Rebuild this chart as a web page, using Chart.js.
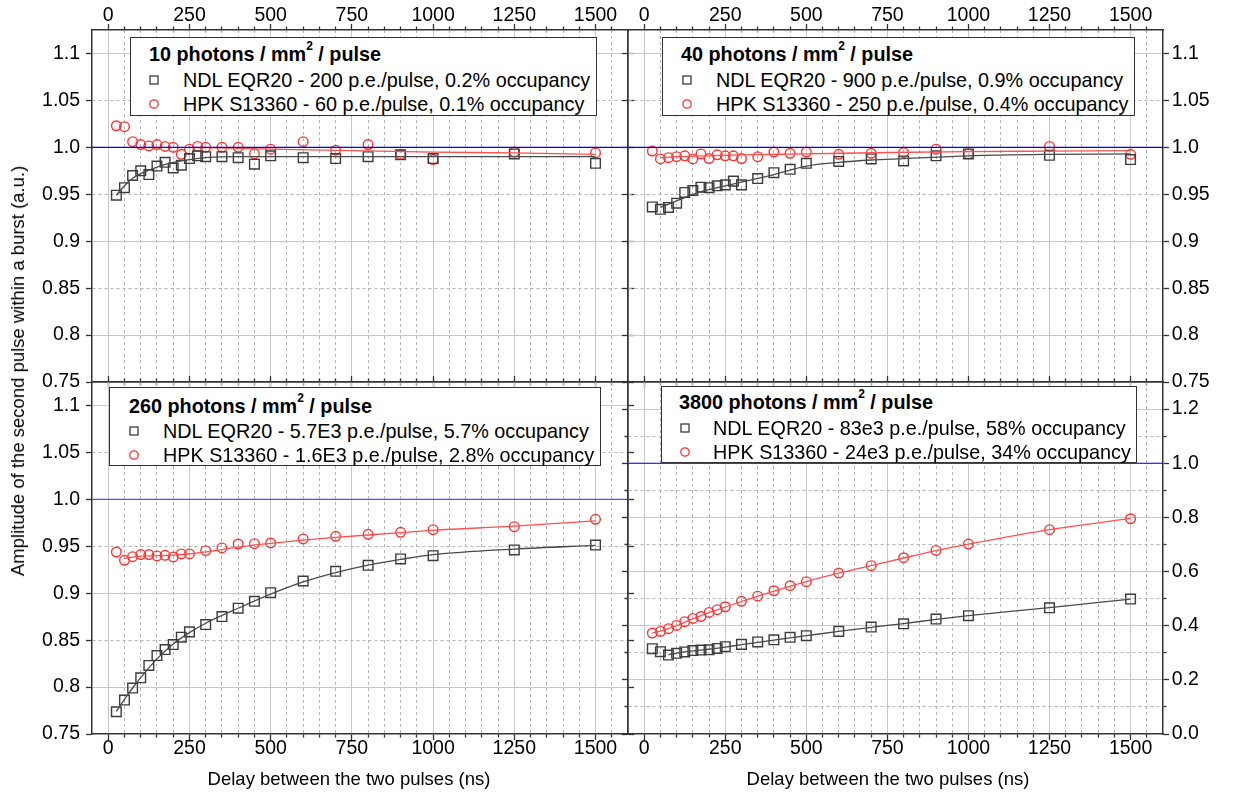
<!DOCTYPE html>
<html>
<head>
<meta charset="utf-8">
<script src="https://cdn.jsdelivr.net/npm/chart.js@4.4.1/dist/chart.umd.min.js"></script>
<style>
body { margin:0; background:#fff; width:1242px; height:795px; overflow:hidden; position:relative;
       font-family:"Liberation Sans", Arial, sans-serif; color:#000; }
canvas { position:absolute; left:0; top:0; }
.legend { position:absolute; background:#fff; border:1px solid #333; box-sizing:border-box; z-index:5; }
.legend div { position:absolute; white-space:nowrap; line-height:24px; height:24px; font-size:19.8px; }
.legend .ttl { font-weight:bold; }
.legend sup { font-size:12px; position:relative; top:-2px; vertical-align:top; line-height:12px; }
.legend svg { position:absolute; }
.axtitle { position:absolute; font-size:18.5px; white-space:nowrap; transform:translate(-50%,-50%); z-index:5; }
</style>
</head>
<body>
<canvas id="c0" width="1242" height="795"></canvas>
<canvas id="c1" width="1242" height="795"></canvas>
<canvas id="c2" width="1242" height="795"></canvas>
<canvas id="c3" width="1242" height="795"></canvas>
<div class="axtitle" style="left:18px;top:371px;transform:translate(-50%,-50%) rotate(-90deg);">Amplitude of the second pulse within a burst (a.u.)</div>
<div class="axtitle" style="left:349px;top:779px;">Delay between the two pulses (ns)</div>
<div class="axtitle" style="left:888px;top:779px;">Delay between the two pulses (ns)</div>
<script>
// delays (ns)
var xAll   = [25,50,75,100,125,150,175,200,225,250,275,300,350,400,450,500,600,700,800,900,1000,1250,1500];
var xNo275 = [25,50,75,100,125,150,175,200,225,250,300,350,400,450,500,600,700,800,900,1000,1250,1500];

// 10 photons / mm2 / pulse
var ndl10 = [0.949,0.957,0.970,0.975,0.971,0.980,0.984,0.978,0.981,0.988,0.991,0.990,0.990,0.989,0.982,0.991,0.989,0.988,0.990,0.992,0.988,0.993,0.983];
var hpk10 = [1.023,1.022,1.006,1.003,1.0015,1.003,1.001,1.000,0.9925,0.998,1.001,1.000,1.000,1.000,0.993,0.998,1.006,0.997,1.003,0.9925,0.987,0.995,0.994];
// 40 photons / mm2 / pulse
var ndl40 = [0.9365,0.934,0.936,0.9405,0.952,0.954,0.9575,0.957,0.959,0.960,0.964,0.960,0.9667,0.973,0.9766,0.983,0.985,0.9876,0.9855,0.991,0.993,0.9915,0.987];
var hpk40 = [0.996,0.9876,0.989,0.990,0.991,0.9876,0.993,0.988,0.992,0.991,0.991,0.988,0.990,0.995,0.9936,0.995,0.9926,0.9936,0.9943,0.998,0.993,1.001,0.9926];
// 260 photons / mm2 / pulse
var ndl260 = [0.7737,0.7861,0.7989,0.8099,0.8230,0.8336,0.8400,0.8453,0.8531,0.8588,0.8666,0.8751,0.8840,0.8914,0.9006,0.9130,0.9233,0.9297,0.9365,0.9400,0.9461,0.9513];
var hpk260 = [0.9439,0.9350,0.9389,0.9411,0.9411,0.9397,0.9404,0.9386,0.9418,0.9418,0.9453,0.9482,0.9524,0.9528,0.9535,0.9578,0.9606,0.9627,0.9648,0.9677,0.9709,0.9787];
// 3800 photons / mm2 / pulse
var ndl3800 = [0.315,0.304,0.2916,0.298,0.303,0.308,0.310,0.311,0.316,0.3224,0.331,0.340,0.348,0.357,0.363,0.379,0.395,0.407,0.4245,0.437,0.466,0.4985];
var hpk3800 = [0.3728,0.379,0.389,0.401,0.415,0.427,0.434,0.449,0.459,0.470,0.490,0.509,0.529,0.5476,0.5625,0.5944,0.6215,0.651,0.678,0.7015,0.7545,0.795];

// fit curves
var fitNdl10X = [25,50,75,100,150,200,250,300,400,500,750,1000,1250,1500];
var fitNdl10Y = [0.949,0.959,0.967,0.972,0.979,0.984,0.987,0.989,0.990,0.990,0.990,0.990,0.990,0.990];
var fitHpk10X = [250,500,750,1000,1250,1500];
var fitHpk10Y = [1.000,0.998,0.9965,0.995,0.994,0.9925];
var fitNdl40X = [50,100,150,200,250,300,400,500,600,700,800,1000,1250,1500];
var fitNdl40Y = [0.936,0.943,0.950,0.955,0.959,0.963,0.971,0.980,0.984,0.9865,0.988,0.991,0.9925,0.993];
var fitHpk40X = [50,100,200,300,500,750,1000,1250,1500];
var fitHpk40Y = [0.989,0.990,0.991,0.992,0.993,0.9945,0.9955,0.996,0.9965];
var fitNdl260X = [25,50,75,100,150,200,250,300,400,500,600,700,800,900,1000,1250,1500];
var fitNdl260Y = [0.774,0.787,0.799,0.810,0.830,0.846,0.858,0.868,0.884,0.899,0.912,0.922,0.930,0.936,0.941,0.947,0.951];
var fitHpk260X = [50,100,200,250,300,400,500,600,700,800,900,1000,1250,1500];
var fitHpk260Y = [0.937,0.9395,0.9405,0.942,0.944,0.949,0.953,0.9565,0.9595,0.962,0.9645,0.967,0.9715,0.977];
var fitNdl3800X = [75,100,150,200,250,300,400,500,600,700,800,900,1000,1250,1500];
var fitNdl3800Y = [0.293,0.299,0.307,0.313,0.321,0.330,0.347,0.363,0.379,0.394,0.408,0.423,0.437,0.467,0.498];
var fitHpk3800X = [25,50,100,150,200,250,300,400,500,600,700,800,900,1000,1250,1500];
var fitHpk3800Y = [0.373,0.380,0.400,0.425,0.448,0.469,0.489,0.528,0.563,0.594,0.622,0.650,0.677,0.701,0.755,0.796];

// reference line at 1.0
var refX = [-50,1600];
var refY = [1.0,1.0];

// ticks
var xTicks = [0,50,100,150,200,250,300,350,400,450,500,550,600,650,700,750,800,850,900,950,1000,1050,1100,1150,1200,1250,1300,1350,1400,1450,1500,1550];
var xMajor = [0,250,500,750,1000,1250,1500];
var yTicksA  = [0.75,0.8,0.85,0.9,0.95,1.0,1.05,1.1];
var yLabelsA = ['0.75','0.8','0.85','0.9','0.95','1.0','1.05','1.1'];
var yMajorA  = [0.8,0.9,1.0,1.1];
var yTicksB  = [0,0.1,0.2,0.3,0.4,0.5,0.6,0.7,0.8,0.9,1.0,1.1,1.2];
var yLabelsB = ['0.0','','0.2','','0.4','','0.6','','0.8','','1.0','','1.2'];
var yMajorB  = [0,0.2,0.4,0.6,0.8,1.0,1.2];

// legend texts
var titleNumbers = ['10','40','260','3800'];
var ndlLabels = ['NDL EQR20 - 200 p.e./pulse, 0.2% occupancy','NDL EQR20 - 900 p.e./pulse, 0.9% occupancy','NDL EQR20 - 5.7E3 p.e./pulse, 5.7% occupancy','NDL EQR20 - 83e3 p.e./pulse, 58% occupancy'];
var hpkLabels = ['HPK S13360 - 60 p.e./pulse, 0.1% occupancy','HPK S13360 - 250 p.e./pulse, 0.4% occupancy','HPK S13360 - 1.6E3 p.e./pulse, 2.8% occupancy','HPK S13360 - 24e3 p.e./pulse, 34% occupancy'];

var W = 1242, H = 795;
var GREY = '#3c3c3c', RED = '#ff3030';
var TICK_FONT = 19.5;
Chart.defaults.font.family = '"Liberation Sans", Arial, sans-serif';
Chart.defaults.font.size = TICK_FONT;
Chart.defaults.color = '#000';

function near(list, v) { return list.some(function (m) { return Math.abs(m - v) < 1e-9; }); }
function pts(xs, ys) { return xs.map(function (x, i) { return {x: x, y: ys[i]}; }); }

// minor ticks are drawn half length by dashing the tick stroke
// (bottom/right ticks start at the frame, top/left ticks end at it)
function tickDash(long, inward) {
  if (long) return [];
  return inward ? [0, 2.5, 3, 100] : [3, 100];
}

function xAxis(pos, show, area, onArea) {
  return {
    type: 'linear', position: pos, min: -50, max: 1600,
    afterBuildTicks: function (s) { s.ticks = xTicks.map(function (v) { return {value: v}; }); },
    afterFit: function (s) { s.height = pos === 'top' ? area.t : H - area.b; },
    ticks: { display: show, autoSkip: false, maxRotation: 0, minRotation: 0,
             padding: pos === 'top' ? -1 : -1.5, font: {size: TICK_FONT, lineHeight: 1},
             callback: function (v) { return near(xMajor, v) ? String(v) : ''; } },
    grid: { drawOnChartArea: onArea, lineWidth: 1, tickLength: 6, tickColor: '#333', tickWidth: 1.3,
            color: function (c) { return c.tick && near(xMajor, c.tick.value) ? '#c8c8c8' : '#b4b4b4'; },
            tickBorderDash: function (c) { return tickDash(c.tick && near(xMajor, c.tick.value), pos === 'top'); } },
    border: { color: '#333', width: 1.5,
              dash: function (c) { return c.tick && !near(xMajor, c.tick.value) ? [3, 3] : []; } }
  };
}

function yAxis(pos, show, area, cfg, onArea) {
  return {
    type: 'linear', position: pos, min: cfg.min, max: cfg.max,
    afterBuildTicks: function (s) { s.ticks = cfg.ticks.map(function (v) { return {value: v}; }); },
    afterFit: function (s) { s.width = pos === 'left' ? area.l : W - area.r; },
    ticks: { display: show, autoSkip: false, padding: pos === 'left' ? 6 : 2.7,
             callback: function (v, i) { return cfg.labels[i]; } },
    grid: { drawOnChartArea: onArea, lineWidth: 1, tickLength: 6, tickColor: '#333', tickWidth: 1.3,
            color: function (c) {
              if (!c.tick || Math.abs(c.tick.value - cfg.min) < 1e-9) return 'rgba(0,0,0,0)';
              return near(cfg.major, c.tick.value) ? '#c8c8c8' : '#b4b4b4';
            },
            tickBorderDash: function (c) { return tickDash(c.tick && cfg.labels[c.index] !== '', pos === 'left'); } },
    border: { color: '#333', width: 1.5,
              dash: function (c) { return c.tick && !near(cfg.major, c.tick.value) ? [3, 3] : []; } }
  };
}

function panel(id, area, cfg, show, xs, ndl, hpk, fN, fNy, fH, fHy, refColor) {
  new Chart(document.getElementById(id), {
    type: 'scatter',
    data: { datasets: [
      { data: pts(refX, refY), showLine: true, borderColor: refColor, borderWidth: 1.2, pointRadius: 0 },
      { data: pts(fN, fNy), showLine: true, borderColor: '#4a4a4a', borderWidth: 1.3, pointRadius: 0, cubicInterpolationMode: 'monotone' },
      { data: pts(fH, fHy), showLine: true, borderColor: '#ff5050', borderWidth: 1.3, pointRadius: 0, cubicInterpolationMode: 'monotone' },
      { data: pts(xs, ndl), pointStyle: 'rect', pointRadius: 6.8, pointBorderWidth: 1.4,
        borderColor: GREY, backgroundColor: 'rgba(0,0,0,0)' },
      { data: pts(xs, hpk), pointStyle: 'circle', pointRadius: 4.8, pointBorderWidth: 1.4,
        borderColor: RED, backgroundColor: 'rgba(0,0,0,0)' }
    ] },
    options: {
      responsive: false, animation: false, events: [],
      layout: { padding: 0 },
      plugins: { legend: { display: false }, tooltip: { enabled: false } },
      scales: {
        x:  xAxis('bottom', show.bottom, area, true),
        x2: xAxis('top', show.top, area, false),
        y:  yAxis('left', show.left, area, cfg, true),
        y2: yAxis('right', show.right, area, cfg, false)
      }
    }
  });
}

var cfgA = {min: 0.75, max: 1.125, ticks: yTicksA, labels: yLabelsA, major: yMajorA};
var cfgB = {min: 0, max: 1.3, ticks: yTicksB, labels: yLabelsB, major: yMajorB};

panel('c0', {l: 92, r: 628, t: 30, b: 382}, cfgA, {top: true, bottom: false, left: true, right: false},
      xAll, ndl10, hpk10, fitNdl10X, fitNdl10Y, fitHpk10X, fitHpk10Y, '#0000ff');
panel('c1', {l: 628, r: 1163, t: 30, b: 382}, cfgA, {top: true, bottom: false, left: false, right: true},
      xAll, ndl40, hpk40, fitNdl40X, fitNdl40Y, fitHpk40X, fitHpk40Y, '#0000ff');
panel('c2', {l: 92, r: 628, t: 382, b: 734}, cfgA, {top: false, bottom: true, left: true, right: false},
      xNo275, ndl260, hpk260, fitNdl260X, fitNdl260Y, fitHpk260X, fitHpk260Y, '#5a4ee6');
panel('c3', {l: 628, r: 1163, t: 382, b: 734}, cfgB, {top: false, bottom: true, left: false, right: true},
      xNo275, ndl3800, hpk3800, fitNdl3800X, fitNdl3800Y, fitHpk3800X, fitHpk3800Y, '#0000ff');

// legend boxes
var legendBoxes = [
  {left: 130, top: 37,  w: 467, h: 79, tx: 18, mx: 23, lx: 52, cy: [16, 42, 66]},
  {left: 662, top: 37,  w: 473, h: 79, tx: 18, mx: 24, lx: 53, cy: [16, 42, 66]},
  {left: 109, top: 387, w: 492, h: 79, tx: 19, mx: 24, lx: 53, cy: [18, 43, 67]},
  {left: 661, top: 386, w: 476, h: 77, tx: 17, mx: 23, lx: 51, cy: [15, 41, 65]}
];
legendBoxes.forEach(function (b, k) {
  var d = document.createElement('div');
  d.className = 'legend';
  d.style.cssText = 'left:' + b.left + 'px;top:' + b.top + 'px;width:' + b.w + 'px;height:' + b.h + 'px;';
  var html = '<div class="ttl" style="left:' + b.tx + 'px;top:' + (b.cy[0] - 12) + 'px">' +
             titleNumbers[k] + ' photons / mm<sup>2</sup> / pulse</div>';
  html += '<svg width="12" height="12" style="left:' + (b.mx - 6) + 'px;top:' + (b.cy[1] - 6) + 'px">' +
          '<rect x="2" y="2" width="8" height="8" fill="none" stroke="' + GREY + '" stroke-width="1.3"/></svg>';
  html += '<div style="left:' + b.lx + 'px;top:' + (b.cy[1] - 12) + 'px">' + ndlLabels[k] + '</div>';
  html += '<svg width="12" height="12" style="left:' + (b.mx - 6) + 'px;top:' + (b.cy[2] - 6) + 'px">' +
          '<circle cx="6" cy="6" r="4.2" fill="none" stroke="' + RED + '" stroke-width="1.3"/></svg>';
  html += '<div style="left:' + b.lx + 'px;top:' + (b.cy[2] - 12) + 'px">' + hpkLabels[k] + '</div>';
  d.innerHTML = html;
  document.body.appendChild(d);
});
</script>
</body>
</html>
